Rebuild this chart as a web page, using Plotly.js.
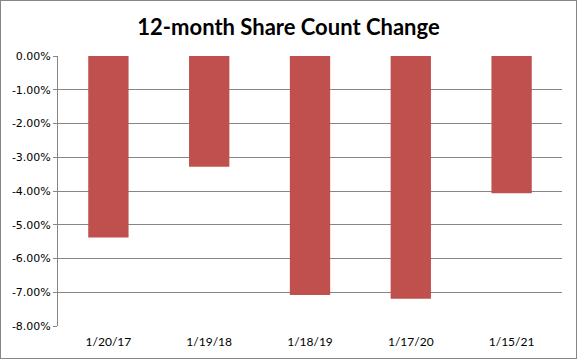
<!DOCTYPE html>
<html>
<head>
<meta charset="utf-8">
<script src="https://cdn.plot.ly/plotly-3.0.1.min.js"></script>
<style>
html,body{margin:0;padding:0;background:#fff;}
#wrap{position:absolute;left:0;top:0;width:575px;height:357px;border:1px solid #868686;background:#fff;}
#chart{width:575px;height:357px;}
</style>
</head>
<body>
<div id="wrap"><div id="chart"></div></div>
<script>
const categories = ["1/20/17", "1/19/18", "1/18/19", "1/17/20", "1/15/21"];
const shareChange = [-0.0538, -0.0328, -0.0708, -0.0719, -0.0407];
const yTickVals = [0, -0.01, -0.02, -0.03, -0.04, -0.05, -0.06, -0.07, -0.08];
const yTickText = ["0.00%", "-1.00%", "-2.00%", "-3.00%", "-4.00%", "-5.00%", "-6.00%", "-7.00%", "-8.00%"];

const trace = {
  type: "bar",
  x: categories,
  y: shareChange,
  marker: {color: "#C0504D", line: {width: 0}},
  hoverinfo: "none"
};

const layout = {
  width: 575,
  height: 357,
  margin: {l: 57, r: 14, t: 55, b: 32},
  paper_bgcolor: "#ffffff",
  plot_bgcolor: "#ffffff",
  showlegend: false,
  bargap: 0.6,
  title: {
    text: "<b>12-month Share Count Change</b>",
    font: {family: "Lato, 'Open Sans', sans-serif", size: 22, color: "#000000"},
    x: 0.5, xanchor: "center",
    y: 1 - 26/357, yref: "container", yanchor: "middle"
  },
  xaxis: {
    type: "category",
    showgrid: false,
    zeroline: false,
    showline: false,
    ticks: "",
    ticklabelstandoff: 7,
    tickfont: {family: "Lato, 'Liberation Sans', sans-serif", size: 12, color: "#000000"},
    fixedrange: true
  },
  yaxis: {
    range: [-0.08, 0],
    tickvals: yTickVals,
    ticktext: yTickText,
    showgrid: true,
    gridcolor: "#868686",
    gridwidth: 1,
    zeroline: false,
    showline: true,
    linecolor: "#868686",
    linewidth: 1,
    ticks: "outside",
    ticklen: 4,
    tickcolor: "#868686",
    tickfont: {family: "'DejaVu Sans', sans-serif", size: 11, color: "#000000"},
    fixedrange: true
  }
};

Plotly.newPlot("chart", [trace], layout, {staticPlot: true, displayModeBar: false});
</script>
</body>
</html>
